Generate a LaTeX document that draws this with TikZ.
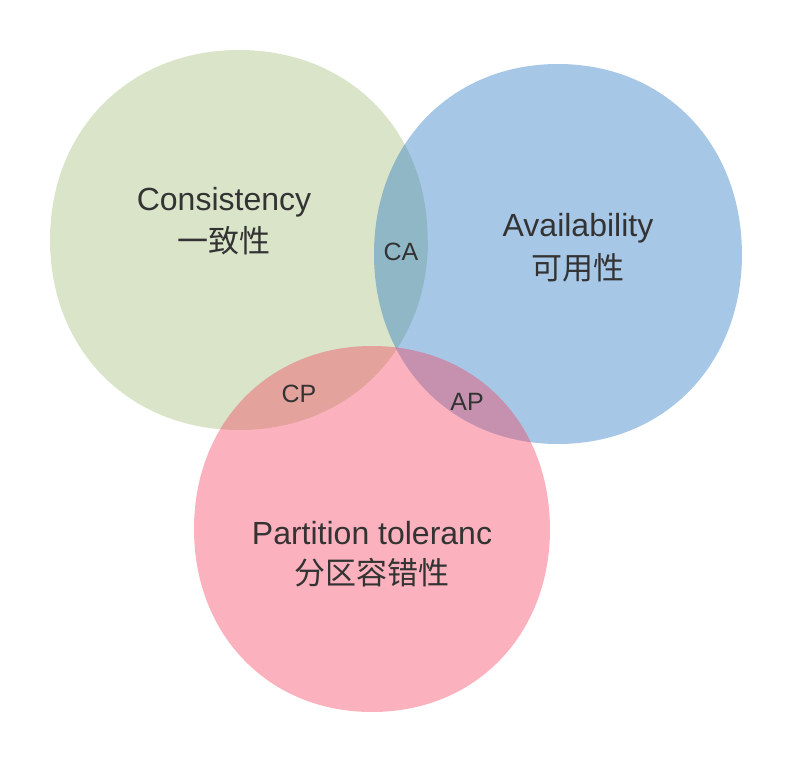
\documentclass[tikz,border=0pt]{standalone}
\usepackage{fontspec}
\setmainfont{Liberation Sans}
\newfontfamily\cjk{Noto Sans CJK SC}
\definecolor{cgreen}{RGB}{160,188,120}
\definecolor{cblue}{RGB}{35,115,195}
\definecolor{cpink}{RGB}{245,62,92}
\definecolor{ctext}{RGB}{51,51,51}
\newcommand\unitblob{(1,0) .. controls (1,0.58) and (0.58,1) .. (0,1) .. controls (-0.58,1) and (-1,0.58) .. (-1,0) .. controls (-1,-0.58) and (-0.58,-1) .. (0,-1) .. controls (0.58,-1) and (1,-0.58) .. cycle}
\begin{document}
\begin{tikzpicture}[x=1pt,y=-1pt,
  bigtext/.style={text=ctext,font=\fontsize{32}{38}\selectfont,inner sep=0pt},
  cjktext/.style={text=ctext,font=\cjk\fontsize{31}{37}\selectfont,inner sep=0pt},
  smalltext/.style={text=ctext,font=\fontsize{25}{30}\selectfont,inner sep=0pt},
  blobfill/.style={fill=#1,fill opacity=0.4,draw=none}]
\useasboundingbox (0,0) rectangle (792,762);
\begin{scope}[shift={(239,240)},xscale=189,yscale=190]
  \path[blobfill=cgreen] \unitblob;
\end{scope}
\begin{scope}[shift={(558,254)},xscale=184,yscale=190]
  \path[blobfill=cblue] \unitblob;
\end{scope}
\begin{scope}[shift={(372,529)},xscale=178,yscale=183]
  \path[blobfill=cpink] \unitblob;
\end{scope}
\node[bigtext] (c1) at (224,202) {Consistency};
\node[cjktext] (c2) at (224,241) {一致性};
\node[bigtext] (a1) at (578,228) {Availability};
\node[cjktext] (a2) at (578,268) {可用性};
\node[bigtext] (p1) at (372,533) {Partition toleranc};
\node[cjktext] (p2) at (372,573) {分区容错性};
\node[smalltext] (ca) at (401,252) {CA};
\node[smalltext] (cp) at (299,394) {CP};
\node[smalltext] (ap) at (467,402) {AP};
\end{tikzpicture}
\end{document}
